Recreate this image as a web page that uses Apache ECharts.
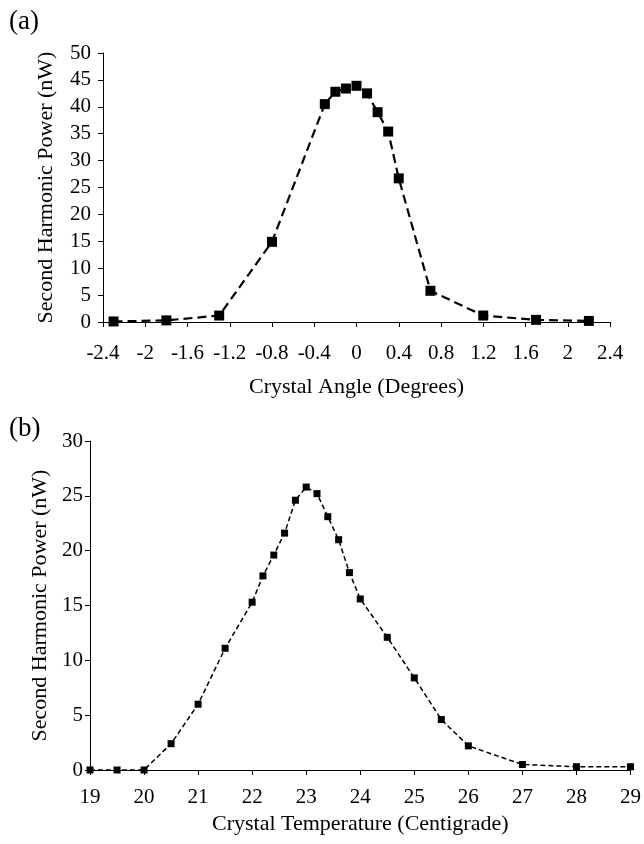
<!DOCTYPE html>
<html><head><meta charset="utf-8">
<script src="https://cdn.jsdelivr.net/npm/echarts@6/dist/echarts.min.js"></script>
<style>html,body{margin:0;padding:0;background:#fff}#c{width:644px;height:844px}</style>
</head><body><div id="c"></div>
<script>
// Panel (a): crystal angle scan
const angleX = [-2.3, -1.8, -1.3, -0.8, -0.3, -0.2, -0.1, 0, 0.1, 0.2, 0.3, 0.4, 0.7, 1.2, 1.7, 2.2];
const angleY = [0.1, 0.3, 1.2, 14.9, 40.5, 42.8, 43.4, 43.9, 42.5, 39.0, 35.4, 26.7, 5.8, 1.2, 0.4, 0.2];
// Panel (b): crystal temperature scan
const tempX = [19, 19.5, 20, 20.5, 21, 21.5, 22, 22.2, 22.4, 22.6, 22.8, 23, 23.2, 23.4, 23.6, 23.8, 24, 24.5, 25, 25.5, 26, 27, 28, 29];
const tempY = [0, 0, 0, 2.4, 6.0, 11.1, 15.3, 17.7, 19.6, 21.6, 24.6, 25.8, 25.2, 23.1, 21.0, 18.0, 15.6, 12.1, 8.4, 4.6, 2.2, 0.5, 0.3, 0.3];

const panelLabels = ['(a)', '(b)'];
const xNames = ['Crystal Angle (Degrees)', 'Crystal Temperature (Centigrade)'];
const yName = 'Second Harmonic Power (nW)';

const FONT = 'Liberation Serif';
const pair = (xs, ys) => xs.map((x, i) => [x, ys[i]]);
const fmt = v => String(parseFloat(Number(v).toFixed(1)));

function axis(extra, labelMargin) {
  return Object.assign({
    axisLine: {show: true, onZero: false, lineStyle: {color: '#000', width: 1}},
    axisTick: {show: true, length: 5, lineStyle: {color: '#000'}},
    splitLine: {show: false},
    axisLabel: {color: '#000', fontFamily: FONT, fontSize: 21, formatter: fmt, margin: labelMargin},
    nameTextStyle: {color: '#000', fontFamily: FONT, fontSize: 22},
    nameLocation: 'middle'
  }, extra);
}

const chart = echarts.init(document.getElementById('c'), null, {renderer: 'canvas'});
chart.setOption({
  backgroundColor: '#fff',
  animation: false,
  title: [
    {text: panelLabels[0], left: 9, top: 8, padding: 0, textStyle: {fontFamily: FONT, fontSize: 27, fontWeight: 'normal', color: '#000'}},
    {text: panelLabels[1], left: 9, top: 415, padding: 0, textStyle: {fontFamily: FONT, fontSize: 27, fontWeight: 'normal', color: '#000'}}
  ],
  grid: [
    {left: 103, width: 507, top: 53, height: 269},
    {left: 90, width: 542, top: 441, height: 329}
  ],
  xAxis: [
    axis({gridIndex: 0, type: 'value', min: -2.4, max: 2.4, interval: 0.4, name: xNames[0], nameGap: 54}, 21),
    axis({gridIndex: 1, type: 'value', min: 19, max: 29, interval: 1, name: xNames[1], nameGap: 43}, 17)
  ],
  yAxis: [
    axis({gridIndex: 0, type: 'value', min: 0, max: 50, interval: 5, name: yName, nameGap: 46}, 12),
    axis({gridIndex: 1, type: 'value', min: 0, max: 30, interval: 5, name: yName, nameGap: 38}, 7)
  ],
  series: [
    {type: 'line', xAxisIndex: 0, yAxisIndex: 0, data: pair(angleX, angleY), symbol: 'rect', symbolSize: 10,
      itemStyle: {color: '#000'}, lineStyle: {color: '#000', width: 2.2, type: [9, 5]}},
    {type: 'line', xAxisIndex: 1, yAxisIndex: 1, data: pair(tempX, tempY), symbol: 'rect', symbolSize: 7,
      itemStyle: {color: '#000'}, lineStyle: {color: '#000', width: 1.5, type: [5, 3]}}
  ]
});
</script>
</body></html>
